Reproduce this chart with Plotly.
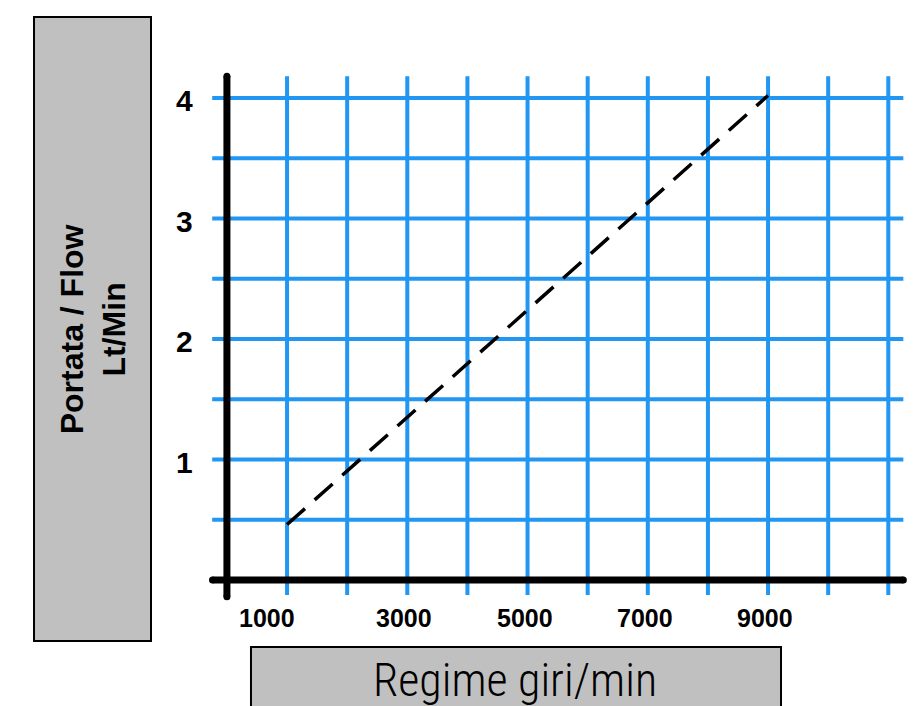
import plotly.graph_objects as go

# ---- data ----
rpm = [1000, 9000]
flow = [0.46, 4.02]
x_tick_vals = [1000, 3000, 5000, 7000, 9000]
x_tick_text = ["1000", "3000", "5000", "7000", "9000"]
y_tick_vals = [1, 2, 3, 4]
y_tick_text = ["1", "2", "3", "4"]
grid_x = [1000, 2000, 3000, 4000, 5000, 6000, 7000, 8000, 9000, 10000, 11000]
grid_y = [0.5, 1, 1.5, 2, 2.5, 3, 3.5, 4]
y_title = "Portata / Flow<br>Lt/Min"
x_title = "Regime giri/min"

BLUE = "#2196F3"
GRID_Y_LO, GRID_Y_HI = -0.125, 4.18
GRID_X_LO, GRID_X_HI = -245, 11250

fig = go.Figure()

# vertical grid lines
vx, vy = [], []
for gx in grid_x:
    vx += [gx, gx, None]
    vy += [GRID_Y_LO, GRID_Y_HI, None]
fig.add_trace(go.Scatter(x=vx, y=vy, mode="lines", line=dict(color=BLUE, width=4),
                         hoverinfo="skip", showlegend=False))
# horizontal grid lines
hx, hy = [], []
for gy in grid_y:
    hx += [GRID_X_LO, GRID_X_HI, None]
    hy += [gy, gy, None]
fig.add_trace(go.Scatter(x=hx, y=hy, mode="lines", line=dict(color=BLUE, width=4),
                         hoverinfo="skip", showlegend=False))

# axis lines (black, thick, round ends)
fig.add_trace(go.Scatter(x=[0, 0], y=[-0.14, 4.18], mode="lines+markers",
                         line=dict(color="black", width=7),
                         marker=dict(color="black", size=7),
                         hoverinfo="skip", showlegend=False))
fig.add_trace(go.Scatter(x=[-240, 11250], y=[0, 0], mode="lines+markers",
                         line=dict(color="black", width=7),
                         marker=dict(color="black", size=7),
                         hoverinfo="skip", showlegend=False))

# flow line
fig.add_trace(go.Scatter(x=rpm, y=flow, mode="lines",
                         line=dict(color="black", width=3.5, dash="24px,13px"),
                         showlegend=False))

annotations = []
tick_font = dict(family="Liberation Sans, Arial, sans-serif", size=25, color="black")
for v, t in zip(x_tick_vals, x_tick_text):
    annotations.append(dict(x=v, y=-0.315, xref="x", yref="y", text="<b>" + t + "</b>",
                            showarrow=False, font=tick_font,
                            xshift=-20 if v == 1000 else -3))
ytick_font = dict(family="Liberation Sans, Arial, sans-serif", size=30, color="black")
for v, t in zip(y_tick_vals, y_tick_text):
    annotations.append(dict(x=-713, y=v, xref="x", yref="y", text="<b>" + t + "</b>",
                            showarrow=False, font=ytick_font, yshift=-3))

# titles inside gray boxes
annotations.append(dict(x=-0.117, y=0.527, xref="paper", yref="paper", text="<b>" + y_title + "</b>",
                        textangle=-90, showarrow=False, xanchor="center", yanchor="middle",
                        font=dict(family="Liberation Sans, Arial, sans-serif", size=32, color="black")))
annotations.append(dict(x=0.4584, y=-0.068, xref="paper", yref="paper", text=x_title,
                        showarrow=False, xanchor="center", yanchor="middle",
                        font=dict(family="Roboto Condensed, Liberation Sans, sans-serif",
                                  size=46, weight=300, color="black")))

shapes = [
    dict(type="rect", xref="paper", yref="paper", x0=-0.1978, x1=-0.0382, y0=-0.0017, y1=1.0559,
         fillcolor="#c0c0c0", line=dict(color="black", width=2), layer="below"),
    dict(type="rect", xref="paper", yref="paper", x0=0.0982, x1=0.8213, y0=-0.16, y1=-0.0119,
         fillcolor="#c0c0c0", line=dict(color="black", width=2), layer="below"),
]

fig.update_layout(
    width=914, height=698,
    margin=dict(l=171, r=10, t=42, b=66),
    paper_bgcolor="white", plot_bgcolor="white",
    xaxis=dict(range=[-797, 11394], showgrid=False, zeroline=False, showticklabels=False,
               showline=False, ticks="", fixedrange=True),
    yaxis=dict(range=[-0.498, 4.398], showgrid=False, zeroline=False, showticklabels=False,
               showline=False, ticks="", fixedrange=True),
    annotations=annotations,
    shapes=shapes,
    showlegend=False,
)

fig.write_html("out.html")
